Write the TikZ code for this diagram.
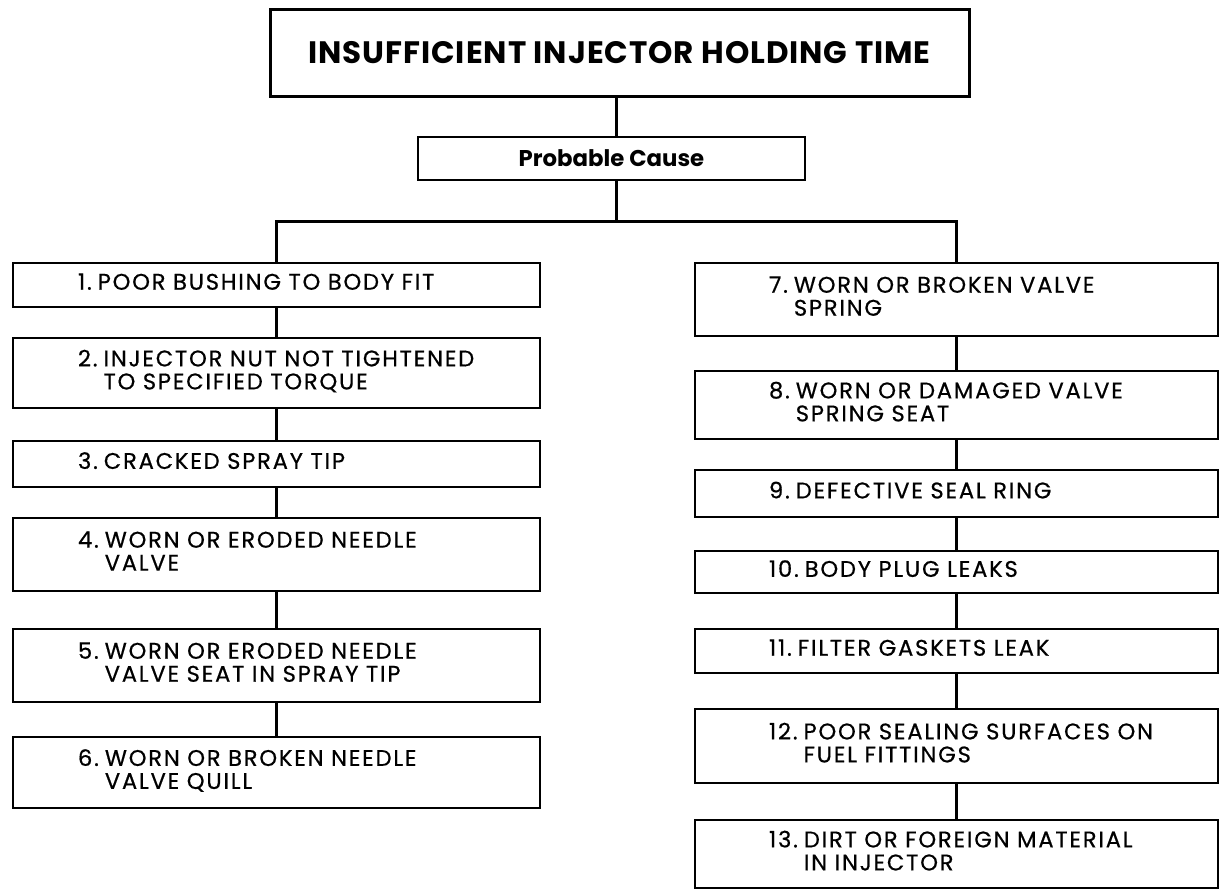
\documentclass[tikz,border=0pt]{standalone}
\usepackage{fontspec}
\setmainfont{Poppins}
\newfontfamily\causefamily[LetterSpace=8, FakeBold=0.6]{Poppins}
\newfontfamily\headfamily[LetterSpace=3]{Poppins}

\newcommand{\causefont}{\causefamily\fontsize{11.3}{11.5}\selectfont}
% number, then the text with a hanging indent
\newcommand{\cause}[2]{\begin{tabular}{@{}l@{\hspace{3pt}}l@{}}#1 & #2\end{tabular}}

\begin{document}
\begin{tikzpicture}[
    x=0.5pt, y=-0.5pt,
    box/.style={draw, rectangle, line width=1.1pt, inner ysep=0pt},
    headbox/.style={box, line width=1.5pt, minimum width=349.5pt, minimum height=43.5pt,
        font=\headfamily\fontsize{15.5}{18}\selectfont\bfseries},
    subbox/.style={box, minimum width=193.5pt, minimum height=21.5pt,
        font=\fontsize{11.4}{14}\selectfont\bfseries},
    leftbox/.style={box, minimum height=#1, inner xsep=32.5pt, text width=198.5pt,
        align=left, font=\causefont},
    rightbox/.style={box, minimum height=#1, inner xsep=37pt, text width=187.5pt,
        align=left, font=\causefont},
    link/.style={line width=1.5pt}
]
    \useasboundingbox (0,0) rectangle (1220,890);

    % Heading and sub-heading
    \node[headbox] (title) at (619.5,52.5) {INSUFFICIENT INJECTOR HOLDING TIME};
    \node[subbox] (cause) at (611.5,158.5) {Probable Cause};
    \coordinate (bar) at (616,221);

    % Left column
    \node[leftbox=22pt]   (c1) at (276.5,285)   {\cause{1.}{POOR BUSHING TO BODY FIT}};
    \node[leftbox=35pt]   (c2) at (276.5,373)   {\cause{2.}{INJECTOR NUT NOT TIGHTENED\\ & TO SPECIFIED TORQUE}};
    \node[leftbox=23pt]   (c3) at (276.5,464)   {\cause{3.}{CRACKED SPRAY TIP}};
    \node[leftbox=36.5pt] (c4) at (276.5,554.5) {\cause{4.}{WORN OR ERODED NEEDLE\\ & VALVE}};
    \node[leftbox=36.5pt] (c5) at (276.5,665.5) {\cause{5.}{WORN OR ERODED NEEDLE\\ & VALVE SEAT IN SPRAY TIP}};
    \node[leftbox=35.5pt] (c6) at (276.5,772.5) {\cause{6.}{WORN OR BROKEN NEEDLE\\ & VALVE QUILL}};

    % Right column
    \node[rightbox=36.5pt] (c7)  at (956.5,299.5) {\cause{7.}{WORN OR BROKEN VALVE\\ & SPRING}};
    \node[rightbox=34pt]   (c8)  at (956.5,405)   {\cause{8.}{WORN OR DAMAGED VALVE\\ & SPRING SEAT}};
    \node[rightbox=23.5pt] (c9)  at (956.5,493.5) {\cause{9.}{DEFECTIVE SEAL RING}};
    \node[rightbox=21pt]   (c10) at (956.5,572)   {\cause{10.}{BODY PLUG LEAKS}};
    \node[rightbox=22pt]   (c11) at (956.5,651)   {\cause{11.}{FILTER GASKETS LEAK}};
    \node[rightbox=37pt]   (c12) at (956.5,746)   {\cause{12.}{POOR SEALING SURFACES ON\\ & FUEL FITTINGS}};
    \node[rightbox=34pt]   (c13) at (956.5,854)   {\cause{13.}{DIRT OR FOREIGN MATERIAL\\ & IN INJECTOR}};

    % Trunk and branches
    \draw[link] (title.south -| bar) -- (cause.north -| bar);
    \draw[link] (cause.south -| bar) -- (bar);
    \draw[link] (c1.north) |- (bar) -| (c7.north);

    % Chains down each column
    \foreach \a/\b in {c1/c2, c2/c3, c3/c4, c4/c5, c5/c6,
                       c7/c8, c8/c9, c9/c10, c10/c11, c11/c12, c12/c13}
        \draw[link] (\a.south) -- (\b.north);

\end{tikzpicture}
\end{document}
